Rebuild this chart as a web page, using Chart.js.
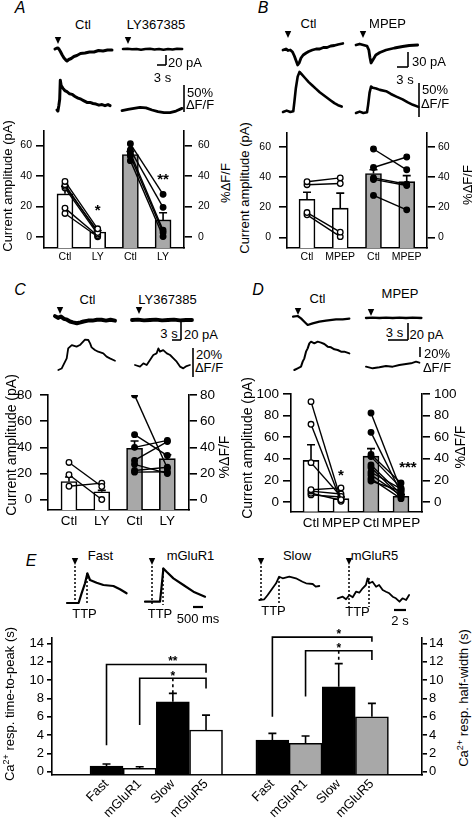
<!DOCTYPE html>
<html>
<head>
<meta charset="utf-8">
<script src="https://cdn.jsdelivr.net/npm/chart.js@4.4.0/dist/chart.umd.min.js"></script>
<style>
body { margin: 0; background: #fff; }
#fig { position: relative; width: 472px; height: 818px; overflow: hidden; background: #fff;
       font-family: "Liberation Sans", Arial, sans-serif; color: #000; }
#fig canvas { position: absolute; }
.t { position: absolute; white-space: nowrap; line-height: 1; transform: translate(-50%, -50%); }
.r { transform: translate(-50%, -50%) rotate(-90deg); }
sup { font-size: 0.7em; line-height: 0; vertical-align: 0.45em; }
</style>
</head>
<body>
<div id="fig"></div>
<script>
// ---- bar chart data (panels A-D: means, sem, paired cells) ----
const aCats = ['Ctl', 'LY', 'Ctl', 'LY'];
const aMeans = [28.3, 3.4, 54, 11.3];
const aErr = [5, 1, 2, 4.7];
const aOpen = [[36.4, 5.5], [34.3, 3], [33.2, 4], [32.1, 2], [19, 1], [15.5, 0.3]];
const aFilled = [[61, 28], [57, 19.5], [55, 4.5], [53, 3], [50, 0.5]];

const bCats = ['Ctl', 'MPEP', 'Ctl', 'MPEP'];
const bMeans = [25.3, 19.4, 42.4, 37];
const bErr = [4.7, 10, 2.5, 4];
const bOpen = [[37, 39.5], [35, 35.8], [16.5, 3.5], [15, 0.5]];
const bFilled = [[58.7, 44.9], [46.4, 53.4], [39.5, 35.3], [38.5, 34.5], [27.9, 18.3]];

const cCats = ['Ctl', 'LY', 'Ctl', 'LY'];
const cMeans = [13.8, 6, 39.3, 31.3];
const cErr = [3.5, 1, 5.6, 3];
const cOpen = [[28.4, 10], [19, 0], [10.2, 12.6]];
const cFilled = [[80, 24], [49.7, 33.7], [40, 45.3], [30, 44.4], [27, 20], [22.3, 24.7], [21, 21.3]];

const dCats = ['Ctl', 'MPEP', 'Ctl', 'MPEP'];
const dMeans = [38.5, 3, 42.4, 5.2];
const dErr = [14.5, 1.5, 7, 1.5];
const dOpen = [[93, 2], [72, 0.5], [36.4, 5], [11.3, 13], [10, 7.3], [8, 1.5], [6.5, 4.5]];
const dFilled = [[82.5, 11], [64.5, 8.5], [44, 17.5], [42, 13], [34.3, 7], [32, 4.5], [27.5, 12], [25, 6], [21.6, 3], [19.4, 10]];

const abTicks = [0, 20, 40, 60];
const cTicks = [0, 20, 40, 60, 80];
const dTicks = [0, 20, 40, 60, 80, 100];

// ---- panel E ----
const eCats = ['Fast', 'mGluR1', 'Slow', 'mGluR5', 'Fast', 'mGluR1', 'Slow', 'mGluR5'];
const eVals = [0.62, 0.37, 7.64, 4.55, 3.46, 3.1, 9.27, 6.0];
const eErr = [0.22, 0.18, 0.91, 1.63, 0.73, 0.8, 2.53, 1.46];
const eTicks = [0, 2, 4, 6, 8, 10, 12, 14];

// ---- example traces, [time (s), value] ; current in pA, fluorescence in %dF/F ----
const aCtlCur = [[0,0],[0.5,1.5],[1,2],[1.3,0],[1.8,-5],[2.4,-12],[3,-18],[3.6,-22],[4,-24],[4.6,-21],[5.4,-19],[6.3,-15],[7.3,-13],[8.5,-9],[10,-8],[11.5,-6],[13,-6],[14.5,-3],[16,-4],[17.5,-2],[19,-2]];
const aLyCur = [[0,0],[1.5,0.5],[3,-0.5],[4.5,0],[6,-1.5],[7.5,0],[9,0.5],[10.5,-1],[12,0],[13.5,-1.5],[15,0],[16.5,-1],[18,0.5],[19.7,0]];
const aCtlDf = [[0,0],[0.3,-2],[0.6,8],[0.9,20],[1.1,55],[1.4,45],[2,40],[2.6,36],[3.3,34],[4.2,30],[5,29],[6,25],[7,22],[8,20],[9,17],[10,14],[11,14],[12,12],[13,11],[14,9],[15,10],[16,8],[17,10],[17.7,8]];
const aLyDf = [[0,-1],[2,1],[4,3],[6,5],[8,4],[10,0],[12,-3],[14,-5],[16,-5],[18,-2],[20,3]];

const bCtlCur = [[0,0],[0.8,2],[1.4,-1],[2,0],[2.6,-4],[3.1,-12],[3.6,-22],[4,-30],[4.4,-26],[4.9,-16],[5.5,-10],[6.3,-6],[7,-3],[8,0],[9,2],[10,2],[11,5],[12,5],[13,8],[14,9],[15,11],[16.3,13]];
const bMpCur = [[0,0],[1,2],[2,0],[3,-2],[3.5,-10],[3.8,-25],[4.1,-36],[4.6,-30],[5.4,-20],[6.5,-15],[8.2,-10],[10.5,-6],[12.7,-3],[14.5,-1],[16.8,0]];
const bCtlDf = [[0,0],[1,2],[2,0],[2.8,1],[3.1,15],[3.5,35],[4,52],[4.5,59],[5,56],[6,50],[7,44],[8,39],[9,34],[10,29],[11,25],[12,21],[13,17],[14,13],[15,10],[16,8]];
const bMpDf = [[0,0],[1,2],[2,0],[3,1],[3.3,12],[3.7,30],[4.1,39],[4.6,37],[5.5,36],[6.5,34],[8.2,32],[9.5,28],[11,24],[12.7,20],[14,16],[15.5,12],[17,9]];

const cCtlCur = [[0,1],[1,-1],[2,0.5],[3,-2],[4,-3],[5,-5],[6,-6],[7.3,-7],[8.5,-6],[9.5,-5],[11,-4],[12.5,-4],[14,-3],[15.5,-3],[17,-4],[18.5,-3],[20,-4]];
const cLyCur = [[0,0],[2,0.5],[4,-0.5],[6,0],[8,0.5],[10,-0.5],[12,0],[14,0.5],[16,-0.5],[18,0],[20,0]];
const cCtlDf = [[0.1,0],[1.2,1],[2.9,8],[3.4,14.9],[4.6,17.2],[6.2,16.1],[7.3,17.2],[9,21],[10.1,20.7],[10.7,18.4],[11.2,15.6],[12.3,13.8],[13.4,12.6],[15.1,11.5],[16.2,9.2],[17.3,8],[19,6.4]];
const cLyDf = [[0,0],[1.67,-1.1],[2.8,1.1],[3.9,0],[5,3.4],[6.1,6.9],[7.2,8],[7.8,11.5],[8.3,9.2],[9.4,10.3],[10.6,8],[11.7,6.9],[12.8,4.6],[13.9,2.3],[15,-1.1],[16.1,-2.3],[17.2,-0.7],[18.3,0]];

const dCtlCur = [[0,0.4],[0.7,1.2],[1.2,-1.6],[1.7,-5.5],[2.2,-9.4],[2.95,-7.5],[3.95,-5.5],[4.95,-4.3],[6.45,-2.7],[7.45,-2.7],[8.45,-1.9]];
const dMpCur = [[0,0],[1,0.5],[2,0],[3,0.5],[4,0],[5,0.5],[6,0],[7,0.5],[8.3,0]];
const dCtlDf = [[0.05,0],[0.55,3.3],[1.05,6.7],[1.3,16.7],[1.55,23.3],[1.8,36.7],[2.05,43.3],[2.3,53.3],[2.55,56.7],[3.05,53.3],[3.55,56.7],[4.05,54.7],[4.55,52],[5.05,46.7],[5.55,45.3],[6.05,41.3],[6.55,40],[7.05,36.7],[7.55,36.7],[8.3,33.3]];
const dMpDf = [[0,0.7],[1,-2.7],[2,-0.7],[3,2],[4,0.7],[5,4],[6,6],[6.75,7.3],[7.5,10.7],[8,8.7]];

const eFastTr = [[0,0],[0.58,0],[0.73,9.7],[0.9,19.7],[1.02,29.7],[1.15,23],[1.48,20.3],[1.82,18],[2.32,17],[2.65,13.7],[2.98,9.7]];
const eR1Tr = [[0,0],[0.75,0],[0.83,15],[0.92,33.3],[1.08,30],[1.42,23.3],[1.92,16.7],[2.42,10],[3,5]];
const eSlowTr = [[0,0],[0.83,0.7],[1.4,5],[2.2,11.7],[2.8,16.7],[3.3,23.3],[3.9,21.7],[5,23.3],[6.1,21.7],[7.2,18.3],[7.8,16.7],[8.9,16],[9.4,13.3],[10,14]];
const eR5Tr = [[0,-0.3],[0.83,1.3],[1.39,-1.3],[1.94,3],[2.5,0.7],[3.05,6.3],[3.6,5.3],[4.16,9.7],[4.7,13],[4.99,19.7],[5.27,14.7],[5.8,16.3],[6.4,11.3],[6.9,13],[7.5,8],[8.05,6.3],[8.6,4.7],[9.16,1.3],[9.7,-0.3],[10.3,-3.7],[10.8,-0.3],[11.4,-2],[11.9,3]];

const GRAY = '#a8a8a8';
const LW = 1.6;
const FONT = '"Liberation Sans", Arial, sans-serif';
Chart.defaults.font.family = FONT;
Chart.defaults.color = '#000';
Chart.defaults.animation = false;
Chart.defaults.plugins.legend.display = false;
Chart.defaults.plugins.tooltip.enabled = false;

const fig = document.getElementById('fig');

function addCanvas(l, t, w, h) {
    var c = document.createElement('canvas');
    c.width = Math.round(w);
    c.height = Math.round(h);
    c.style.left = l + 'px';
    c.style.top = t + 'px';
    fig.appendChild(c);
    return c;
}

function label(html, x, y, size, extra) {
    var d = document.createElement('div');
    d.className = 't' + (extra && extra.rot ? ' r' : '');
    d.innerHTML = html;
    d.style.left = x + 'px';
    d.style.top = y + 'px';
    d.style.fontSize = size + 'px';
    if (extra && extra.italic) d.style.fontStyle = 'italic';
    fig.appendChild(d);
}

// error bars + significance text, drawn right after the bars
function errPlugin(means, errs, xpos, stars, starSize, brackets) {
    return {
        id: 'err',
        afterDatasetDraw: function (chart, args) {
            if (args.index !== 0) return;
            var ctx = chart.ctx, x = chart.scales.x, y = chart.scales.y;
            ctx.save();
            ctx.strokeStyle = '#000';
            ctx.lineWidth = LW;
            means.forEach(function (m, i) {
                var px = x.getPixelForValue(xpos[i]);
                var y0 = y.getPixelForValue(m), y1 = y.getPixelForValue(m + errs[i]);
                ctx.beginPath();
                ctx.moveTo(px, y0); ctx.lineTo(px, y1);
                ctx.moveTo(px - 4, y1); ctx.lineTo(px + 4, y1);
                ctx.stroke();
            });
            ctx.restore();
        },
        afterDraw: function (chart) {
            var ctx = chart.ctx, x = chart.scales.x, y = chart.scales.y;
            ctx.save();
            ctx.strokeStyle = '#000';
            ctx.fillStyle = '#000';
            ctx.lineWidth = LW;
            (brackets || []).forEach(function (b) {
                var xa = x.getPixelForValue(b.from), xb = x.getPixelForValue(b.to);
                ctx.setLineDash([]);
                ctx.beginPath();
                ctx.moveTo(xa, y.getPixelForValue(b.y1));
                ctx.lineTo(xa, y.getPixelForValue(b.top));
                ctx.lineTo(xb, y.getPixelForValue(b.top));
                ctx.lineTo(xb, y.getPixelForValue(b.y2));
                ctx.stroke();
                if (b.dash) {
                    var xs = x.getPixelForValue(b.lx);
                    ctx.setLineDash([3, 3]);
                    ctx.beginPath();
                    ctx.moveTo(xs, y.getPixelForValue(b.dash[0]));
                    ctx.lineTo(xs, y.getPixelForValue(b.dash[1]));
                    ctx.stroke();
                }
            });
            ctx.setLineDash([]);
            ctx.font = 'bold ' + starSize + 'px ' + FONT;
            ctx.textAlign = 'center';
            ctx.textBaseline = 'middle';
            (stars || []).forEach(function (s) {
                ctx.fillText(s.t, x.getPixelForValue(s.x), y.getPixelForValue(s.y) + starSize * 0.22);
            });
            ctx.restore();
        }
    };
}

function pairLine(x1, pr, fill) {
    return {
        type: 'line',
        data: [{x: x1, y: pr[0]}, {x: x1 + 1, y: pr[1]}],
        borderColor: '#000', borderWidth: 1.4,
        pointRadius: 2.8, pointBackgroundColor: fill, pointBorderColor: '#000', pointBorderWidth: 1.3,
        order: 1
    };
}

function yAxis(p, side) {
    return {
        type: 'linear', position: side, min: p.ymin, max: p.ymax,
        afterBuildTicks: function (a) { a.ticks = p.ticks.map(function (v) { return {value: v}; }); },
        ticks: {font: {size: p.fs}, color: '#000', padding: side === 'left' ? p.lpad : p.rpad},
        grid: {drawOnChartArea: false, drawTicks: true, tickLength: 8, color: '#000', lineWidth: LW},
        border: {display: true, color: '#000', width: LW},
        afterFit: function (s) { s.width = side === 'left' ? p.lw : p.rw; }
    };
}

function pairedPanel(p) {
    var l = p.area[0], t = p.area[1], r = p.area[2], b = p.area[3];
    var cv = addCanvas(l - p.lw, t - p.pad, p.lw + r - l + p.rw, p.pad + b - t + p.xh);
    var ds = [{
        type: 'bar',
        data: p.means.map(function (m, i) { return {x: i + 1, y: m}; }),
        backgroundColor: ['#fff', '#fff', GRAY, GRAY],
        borderColor: '#000', borderWidth: LW,
        barThickness: 16, base: p.ymin, order: 10
    }];
    p.open.forEach(function (pr) { ds.push(pairLine(1, pr, '#fff')); });
    p.filled.forEach(function (pr) { ds.push(pairLine(3, pr, '#000')); });
    new Chart(cv, {
        type: 'bar',
        data: {datasets: ds},
        options: {
            responsive: false,
            layout: {padding: {top: p.pad, left: 0, right: 0, bottom: 0}},
            scales: {
                x: {
                    type: 'linear', min: p.xmin, max: p.xmax, offset: false,
                    afterBuildTicks: function (a) { a.ticks = p.cats.map(function (c, i) { return {value: i + 1}; }); },
                    ticks: {
                        font: {size: p.fs}, color: '#000', padding: 3, maxRotation: 0, autoSkip: false,
                        callback: function (v, i) { return p.cats[i]; }
                    },
                    grid: {display: false, drawTicks: false},
                    border: {display: true, color: '#000', width: LW},
                    afterFit: function (s) { s.height = p.xh; }
                },
                y: yAxis(p, 'left'),
                y2: yAxis(p, 'right')
            }
        },
        plugins: [errPlugin(p.means, p.err, [1, 2, 3, 4], p.stars, 15)]
    });
}

function trace(x0, y0, pxs, pxv, pts, lw) {
    var ts = pts.map(function (q) { return q[0]; }), vs = pts.map(function (q) { return q[1]; });
    var m = 4;
    var l = Math.floor(x0 + Math.min.apply(null, ts) * pxs - m);
    var r = Math.ceil(x0 + Math.max.apply(null, ts) * pxs + m);
    var t = Math.floor(y0 - Math.max.apply(null, vs) * pxv - m);
    var b = Math.ceil(y0 - Math.min.apply(null, vs) * pxv + m);
    var cv = addCanvas(l, t, r - l, b - t);
    new Chart(cv, {
        type: 'line',
        data: {datasets: [{
            data: pts.map(function (q) { return {x: q[0], y: q[1]}; }),
            borderColor: '#000', borderWidth: lw, pointRadius: 0, tension: 0,
            borderJoinStyle: 'round', borderCapStyle: 'round'
        }]},
        options: {
            responsive: false,
            layout: {padding: 0},
            scales: {
                x: {type: 'linear', display: false, min: (l - x0) / pxs, max: (r - x0) / pxs},
                y: {type: 'linear', display: false, min: (y0 - b) / pxv, max: (y0 - t) / pxv}
            }
        }
    });
}

// ---- panels A-D bar charts ----
pairedPanel({area: [44, 128, 184, 248], lw: 30, rw: 30, pad: 10, xh: 22, ymin: -7.04, ymax: 69.8,
    xmin: 0.358, xmax: 4.64, fs: 10.5, lpad: 4, rpad: 6, ticks: abTicks, cats: aCats,
    means: aMeans, err: aErr, open: aOpen, filled: aFilled,
    stars: [{x: 2, y: 19.2, t: '*'}, {x: 4, y: 39.7, t: '**'}]});
pairedPanel({area: [287, 128, 427, 248], lw: 30, rw: 30, pad: 10, xh: 22, ymin: -7.04, ymax: 69.8,
    xmin: 0.398, xmax: 4.61, fs: 10.5, lpad: 8, rpad: 3, ticks: abTicks, cats: bCats,
    means: bMeans, err: bErr, open: bOpen, filled: bFilled, stars: []});
pairedPanel({area: [48, 389, 189, 510], lw: 34, rw: 32, pad: 10, xh: 24, ymin: -8, ymax: 80,
    xmin: 0.36, xmax: 4.66, fs: 13.5, lpad: 8, rpad: 3, ticks: cTicks, cats: cCats,
    means: cMeans, err: cErr, open: cOpen, filled: cFilled, stars: []});
pairedPanel({area: [291, 391.7, 422, 511.7], lw: 37, rw: 37, pad: 9.7, xh: 24.3, ymin: -9.1, ymax: 100,
    xmin: 0.333, xmax: 4.7, fs: 13.5, lpad: 4, rpad: 4, ticks: dTicks, cats: dCats,
    means: dMeans, err: dErr, open: dOpen, filled: dFilled,
    stars: [{x: 2, y: 27, t: '*'}, {x: 4.23, y: 35, t: '***'}]});

// ---- panel E bar chart ----
(function () {
    var l = 52, t = 638, r = 422, b = 774.3, lw = 38, rw = 28, pad = 20, xh = 43.7;
    var cv = addCanvas(l - lw, t - pad, lw + r - l + rw, pad + b - t + xh);
    var xpos = eCats.map(function (c, i) { return i < 4 ? i + 1 : i + 2; });
    var fills = ['#000', '#fff', '#000', '#fff', '#000', GRAY, '#000', GRAY];
    var p = {ymin: -0.28, ymax: 14.6, ticks: eTicks, fs: 13, lpad: 3, rpad: 2, lw: lw, rw: rw};
    var yl = yAxis(p, 'left'), yr = yAxis(p, 'right');
    yl.grid.tickLength = 5; yr.grid.tickLength = 5;
    new Chart(cv, {
        type: 'bar',
        data: {datasets: [{
            data: eVals.map(function (v, i) { return {x: xpos[i], y: v}; }),
            backgroundColor: fills, borderColor: '#000', borderWidth: LW,
            barThickness: 33, base: -0.28
        }]},
        options: {
            responsive: false,
            layout: {padding: {top: pad, left: 0, right: 0, bottom: 0}},
            scales: {
                x: {
                    type: 'linear', min: -0.643, max: 10.51, offset: false,
                    afterBuildTicks: function (a) { a.ticks = xpos.map(function (v) { return {value: v}; }); },
                    ticks: {
                        font: {size: 13}, color: '#000', padding: 2, minRotation: 45, maxRotation: 45, autoSkip: false,
                        callback: function (v, i) { return eCats[i]; }
                    },
                    grid: {display: false, drawTicks: false},
                    border: {display: true, color: '#000', width: LW},
                    afterFit: function (s) { s.height = xh; }
                },
                y: yl,
                y2: yr
            }
        },
        plugins: [errPlugin(eVals, eErr, xpos, [
            {x: 3, y: 12.35, t: '**'}, {x: 3, y: 10.7, t: '*'}, {x: 8, y: 15.3, t: '*'}, {x: 8, y: 13.75, t: '*'}
        ], 12, [
            {from: 1, to: 4, y1: 2.9, top: 11.7, y2: 10.8, lx: 3},
            {from: 2, to: 4, y1: 5.1, top: 10.2, y2: 9.1, lx: 3, dash: [10.2, 8.6]},
            {from: 6, to: 9, y1: 6.0, top: 14.7, y2: 14.2, lx: 8},
            {from: 7, to: 9, y1: 8.2, top: 13.2, y2: 12.2, lx: 8, dash: [13.2, 11.9]}
        ])]
    });
})();

// ---- traces ----
trace(55, 49, 3, 0.5, aCtlCur, 3);
trace(123, 49, 3, 0.5, aLyCur, 2.6);
trace(57, 110, 3, 0.54, aCtlDf, 3);
trace(122, 110, 3, 0.54, aLyDf, 2.8);
trace(283, 50, 3.67, 0.5, bCtlCur, 2.8);
trace(356, 45, 3.67, 0.5, bMpCur, 2.8);
trace(283, 112, 3.67, 0.68, bCtlDf, 2.6);
trace(356, 113, 3.67, 0.68, bMpDf, 2.6);
trace(55, 317, 3, 0.9, cCtlCur, 4);
trace(132, 320, 3, 0.9, cLyCur, 3.8);
trace(58, 370, 3, 1.45, cCtlDf, 1.8);
trace(135, 365, 3, 1.45, cLyDf, 1.8);
trace(293, 317, 6.67, 0.85, dCtlCur, 2.2);
trace(366, 318, 6.67, 0.85, dMpCur, 2.4);
trace(294, 370, 6.67, 0.5, dCtlDf, 2);
trace(366, 367, 6.67, 0.5, dMpDf, 2);
trace(67, 603, 20, 1, eFastTr, 2.2);
trace(145, 601.7, 20, 1, eR1Tr, 2.2);
trace(259.3, 600, 6, 1, eSlowTr, 1.8);
trace(337.7, 598, 6, 1, eR5Tr, 1.8);

// ---- text ----
label('A', 20, 8, 16, {italic: true});
label('B', 263, 8, 16, {italic: true});
label('C', 20, 290, 16, {italic: true});
label('D', 258, 290, 16, {italic: true});
label('E', 31, 561, 16, {italic: true});

label('Ctl', 83, 23.5, 13); label('LY367385', 156, 23.5, 13);
label('20 pA', 185, 62, 13); label('3 s', 162.5, 77, 13);
label('50%', 200, 91.5, 13); label('ΔF/F', 200, 104, 13);
label('Ctl', 308.5, 23, 13); label('MPEP', 387.5, 23, 13);
label('30 pA', 429, 61, 13); label('3 s', 405, 79, 13);
label('50%', 435, 89, 13); label('ΔF/F', 435, 102.5, 13);
label('Ctl', 87.5, 299, 13); label('LY367385', 167.5, 299, 13);
label('3 s', 169, 333, 13); label('20 pA', 201, 334, 13);
label('20%', 209, 354, 13); label('ΔF/F', 209, 367, 13);
label('Ctl', 317.5, 298, 13); label('MPEP', 400, 293, 13);
label('3 s', 394.5, 332, 13); label('20 pA', 426.5, 333.5, 13);
label('20%', 437, 353, 13); label('ΔF/F', 437, 367, 13);

label('Current amplitude (pA)', 7, 186, 13, {rot: true}); label('%ΔF/F', 225, 183, 13, {rot: true});
label('Current amplitude (pA)', 244, 188, 13, {rot: true}); label('%ΔF/F', 467, 185, 13, {rot: true});
label('Current amplitude (pA)', 11, 445, 14, {rot: true}); label('%ΔF/F', 224, 457, 14, {rot: true});
label('Current amplitude (pA)', 247, 448, 14, {rot: true}); label('%ΔF/F', 460, 447, 14, {rot: true});

label('Fast', 100.5, 555, 13); label('mGluR1', 190.5, 555, 13);
label('Slow', 297, 555, 13); label('mGluR5', 374.5, 555, 13);
label('TTP', 84.5, 612.5, 13); label('TTP', 160, 612.5, 13);
label('TTP', 273.5, 610, 13); label('TTP', 357.5, 611, 13);
label('500 ms', 198, 618, 13); label('2 s', 400, 620, 13);
label('Ca<sup>2+</sup> resp. time-to-peak (s)', 9, 704, 13, {rot: true});
label('Ca<sup>2+</sup> resp. half-width (s)', 463, 698, 13, {rot: true});

// ---- scale bars, stimulus arrowheads, TTP markers ----
var ov = addCanvas(0, 0, 472, 818);
ov.style.zIndex = 5;
ov.style.pointerEvents = 'none';
var g = ov.getContext('2d');
g.strokeStyle = '#000';
g.fillStyle = '#000';
function seg(x1, y1, x2, y2, w, dash) {
    g.lineWidth = w || 1.6;
    g.setLineDash(dash || []);
    g.beginPath(); g.moveTo(x1, y1); g.lineTo(x2, y2); g.stroke();
}
function arrow(x, y) {
    g.beginPath(); g.moveTo(x - 3.2, y); g.lineTo(x + 3.2, y); g.lineTo(x, y + 7); g.closePath(); g.fill();
}
seg(166, 55, 166, 65); seg(157, 65, 166, 65); seg(184, 85, 184, 112);
seg(408, 52, 408, 67); seg(397, 67, 408, 67); seg(419, 83, 419, 117);
seg(181, 322, 181, 340); seg(172, 340, 181, 340); seg(193, 348, 193, 377);
seg(408, 323, 408, 340); seg(388, 340, 408, 340); seg(420, 347, 420, 357);
seg(193, 607, 203, 607, 2.2); seg(394, 610, 406, 610, 2.2);
[[58, 37], [128, 37], [288, 31], [363, 31], [60, 307], [139, 307], [298, 308], [371, 309],
 [75, 558], [152, 558], [261, 558], [349, 558]].forEach(function (a) { arrow(a[0], a[1]); });
[[75, 566, 605], [87, 573, 605], [152, 566, 605], [163, 568, 605],
 [261, 566, 601], [279, 577, 604], [349, 566, 607], [369, 578, 607]].forEach(function (d) {
    seg(d[0], d[1], d[0], d[2], 1.5, [2, 2]);
});
</script>
</body>
</html>
